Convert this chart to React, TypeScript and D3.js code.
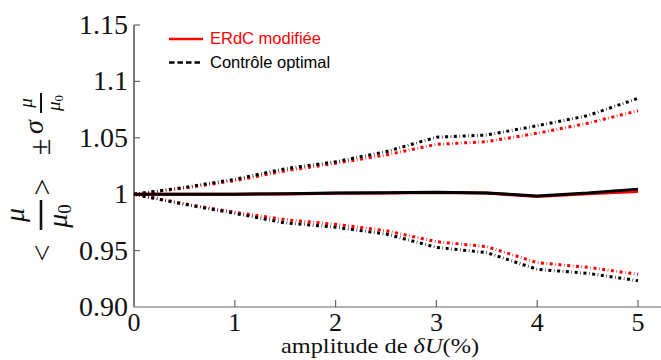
import React from "react";
import * as d3 from "d3";

const xs = [0, 0.5, 1, 1.5, 2, 2.5, 3, 3.5, 4, 4.5, 5];
const meanERdC = [1, 1.0, 1.0, 1.0002, 1.0008, 1.001, 1.0015, 1.001, 0.998, 1.0005, 1.0025];
const meanCO = [1, 1.0, 1.0, 1.0003, 1.001, 1.0012, 1.0018, 1.001, 0.9985, 1.001, 1.0045];
const upperERdC = [1, 1.0055, 1.012, 1.0207, 1.0274, 1.0348, 1.0442, 1.0466, 1.054, 1.0629, 1.074];
const upperCO = [1, 1.006, 1.0132, 1.0226, 1.0288, 1.0377, 1.0505, 1.0525, 1.0607, 1.0696, 1.085];
const lowerERdC = [1, 0.9915, 0.984, 0.9774, 0.9733, 0.9676, 0.9579, 0.9535, 0.9393, 0.9352, 0.929];
const lowerCO = [1, 0.991, 0.983, 0.9745, 0.9707, 0.9647, 0.9529, 0.9482, 0.9334, 0.9299, 0.9233];

const xTicks = [0, 1, 2, 3, 4, 5];
const yTicks = [0.9, 0.95, 1, 1.05, 1.1, 1.15];
const yTickLabels = ["0.90", "0.95", "1", "1.05", "1.1", "1.15"];
const legendLabels = ["ERdC modifiée", "Contrôle optimal"];

const W = 661;
const H = 360;
const serif = "'Liberation Serif', 'Times New Roman', serif";
const sans = "'Liberation Sans', Arial, sans-serif";

export default function App() {
  const x = d3.scaleLinear().domain([0, 5]).range([134, 638]);
  const y = d3.scaleLinear().domain([0.9, 1.15]).range([307, 25]);
  const line = (vals: number[]) =>
    d3.line<number>().x((_, i) => x(xs[i])).y((d) => y(d))(vals) as string;
  const dots = "3 2.6 0.6 2.6";

  return (
    <svg
      width={W}
      height={H}
      style={{ position: "absolute", left: 0, top: 0, background: "#fff" }}
    >
      <rect x={0} y={0} width={W} height={H} fill="#fff" />
      {/* axes */}
      <line x1={x(0)} x2={x(0)} y1={y(1.15)} y2={y(0.9)} stroke="#222" strokeWidth={1.2} />
      <line x1={x(0)} x2={W} y1={y(0.9)} y2={y(0.9)} stroke="#666" strokeWidth={1.2} />
      {yTicks.map((t, i) => (
        <g key={"yt" + i}>
          {t > 0.9 && (
            <line x1={x(0)} x2={x(0) + 6} y1={y(t)} y2={y(t)} stroke="#666" strokeWidth={1.2} />
          )}
          <text
            x={128}
            y={y(t) + 9}
            textAnchor="end"
            fontFamily={serif}
            fontSize={28}
            fill="#111"
          >
            {yTickLabels[i]}
          </text>
        </g>
      ))}
      {xTicks.map((t) => (
        <g key={"xt" + t}>
          {t > 0 && (
            <line x1={x(t)} x2={x(t)} y1={y(0.9)} y2={y(0.9) - 7} stroke="#666" strokeWidth={1.2} />
          )}
          <text x={x(t)} y={331} textAnchor="middle" fontFamily={serif} fontSize={26} fill="#111">
            {t}
          </text>
        </g>
      ))}
      <g transform="translate(380,353) scale(1.22,1)">
        <text x={0} y={0} textAnchor="middle" fontFamily={serif} fontSize={20} fill="#111">
          amplitude de <tspan fontStyle="italic">δU</tspan>(%)
        </text>
      </g>

      {/* y label, rotated pieces */}
      <g fontFamily={serif} fill="#111">
        <text transform="translate(52,253) rotate(-90)" textAnchor="middle" fontSize={30}>&lt;</text>
        <line x1={41} x2={41} y1={200} y2={230} stroke="#111" strokeWidth={2.6} />
        <text transform="translate(24,215) rotate(-90)" textAnchor="middle" fontSize={28} fontStyle="italic">μ</text>
        <text transform="translate(67,216) rotate(-90)" textAnchor="middle" fontSize={28} fontStyle="italic">
          μ<tspan fontSize={19} fontStyle="normal" dy={4}>0</tspan>
        </text>
        <text transform="translate(52,187) rotate(-90)" textAnchor="middle" fontSize={30}>&gt;</text>
        <text transform="translate(50,147) rotate(-90)" textAnchor="middle" fontSize={30}>±</text>
        <text transform="translate(43,127) rotate(-90)" textAnchor="middle" fontSize={28} fontStyle="italic">σ</text>
        <line x1={41} x2={41} y1={93} y2={113} stroke="#111" strokeWidth={2} />
        <text transform="translate(32,103) rotate(-90)" textAnchor="middle" fontSize={19} fontStyle="italic">μ</text>
        <text transform="translate(60,103) rotate(-90)" textAnchor="middle" fontSize={19} fontStyle="italic">
          μ<tspan fontSize={13} fontStyle="normal" dy={3}>0</tspan>
        </text>
      </g>

      {/* data */}
      <path d={line(upperERdC)} fill="none" stroke="#ff0000" strokeWidth={3} strokeDasharray={dots} />
      <path d={line(lowerERdC)} fill="none" stroke="#ff0000" strokeWidth={3} strokeDasharray={dots} />
      <path d={line(upperCO)} fill="none" stroke="#000" strokeWidth={3} strokeDasharray={dots} />
      <path d={line(lowerCO)} fill="none" stroke="#000" strokeWidth={3} strokeDasharray={dots} />
      <path d={line(meanERdC)} fill="none" stroke="#ff0000" strokeWidth={3} />
      <path d={line(meanCO)} fill="none" stroke="#000" strokeWidth={3} />

      {/* legend */}
      <line x1={169} x2={203} y1={39} y2={39} stroke="#ff0000" strokeWidth={2.5} />
      <text x={210} y={44} fontFamily={sans} fontSize={16.5} fill="#ff0000">
        {legendLabels[0]}
      </text>
      <line x1={169} x2={203} y1={62.5} y2={62.5} stroke="#000" strokeWidth={2.5} strokeDasharray="5.5 3" />
      <text x={210} y={68} fontFamily={sans} fontSize={16.5} fill="#000">
        {legendLabels[1]}
      </text>
    </svg>
  );
}
